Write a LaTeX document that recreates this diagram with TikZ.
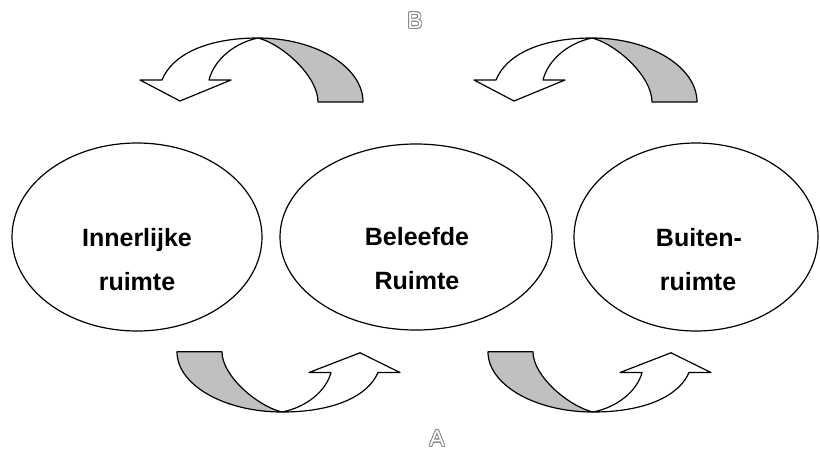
\documentclass[tikz,border=0pt]{standalone}
\usepackage{fontspec}
\setmainfont{Liberation Sans}
\usepackage{contour}
\contourlength{0.8pt}
\usetikzlibrary{shapes.geometric}
\definecolor{backgray}{HTML}{C0C0C0}
\definecolor{lettergray}{HTML}{8A8A8A}
\tikzset{
  oval/.style={ellipse, draw=black, line width=1.2pt, fill=white, inner sep=0pt},
  lbl/.style={font=\bfseries\fontsize{25}{30}\selectfont, anchor=base, inner sep=0pt},
  band/.style={draw=black, line width=1.2pt, line join=round},
  letterlbl/.style={font=\fontsize{23}{27}\selectfont, inner sep=0pt},
  curvarrow/.pic={
    \draw[band, fill=backgray] (0,0) .. controls (58,0) and (105,29) .. (105,64)
      -- (60,64) .. controls (60,38) and (24,6) .. (0,0) -- cycle;
    \draw[band, fill=white] (0,0) .. controls (-52,0) and (-86,17) .. (-96,42)
      -- (-118,42) -- (-78,63) -- (-27,42) -- (-49,42)
      .. controls (-44,22) and (-24,5) .. (0,0) -- cycle;
  }
}
\begin{document}
\begin{tikzpicture}[x=1pt,y=-1pt]
\useasboundingbox (0,0) rectangle (820,451);
% ellipses
\node[oval, minimum width=250pt, minimum height=188pt] (inner) at (137,237) {};
\node[oval, minimum width=272pt, minimum height=186pt] (lived) at (416,237) {};
\node[oval, minimum width=244pt, minimum height=188pt] (outer) at (696,237) {};
% texts
\node[lbl] (t1a) at (137,246) {Innerlijke};
\node[lbl] (t1b) at (137,290) {ruimte};
\node[lbl] (t2a) at (417,245) {Beleefde};
\node[lbl] (t2b) at (417,289) {Ruimte};
\node[lbl] (t3a) at (699,246) {Buiten-};
\node[lbl] (t3b) at (698,290) {ruimte};
% curved arrows
\pic at (258,38) {curvarrow};
\pic at (592,38) {curvarrow};
\pic[rotate=180, yscale=0.94] at (282,412) {curvarrow};
\pic[rotate=180, yscale=0.94] at (593,412) {curvarrow};
% letters
\node[letterlbl] (B) at (415,21) {\contour{lettergray}{\textcolor{white}{B}}};
\node[letterlbl] (A) at (437,439) {\contour{lettergray}{\textcolor{white}{A}}};
\end{tikzpicture}
\end{document}
